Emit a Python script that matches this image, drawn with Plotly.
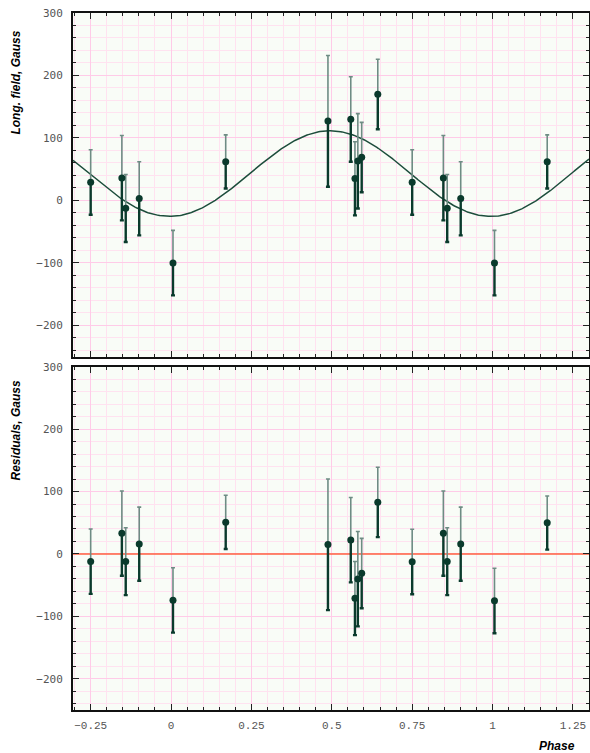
import numpy as np
import plotly.graph_objects as go

# ---- data ----
phase = [-0.25, -0.153, -0.141, -0.099, 0.006, 0.170, 0.488, 0.559, 0.572, 0.581,
         0.593, 0.643, 0.75, 0.847, 0.859, 0.901, 1.006, 1.170]
field = [29, 36, -12.5, 3, -100, 62, 127, 130, 35, 63, 69, 170, 29, 36, -12.5, 3, -100, 62]
field_err = [52, 68, 54, 59, 52, 43, 105, 68, 59, 76, 56, 56, 52, 68, 54, 59, 52, 43]
residuals = [-12, 33, -12, 16, -74, 51, 15, 22.5, -71, -40, -31, 83, -12.5, 33, -12, 16, -75, 50]

# sinusoidal model fit parameters
B0 = 43.0
B1 = 68.5
PHI0 = 0.495

X_MIN, X_MAX = -0.305, 1.30
Y_MIN, Y_MAX = -250, 300

x_ticks = [-0.25, 0, 0.25, 0.5, 0.75, 1, 1.25]
x_ticklabels = ["\u22120.25", "0", "0.25", "0.5", "0.75", "1", "1.25"]
y_ticks = [-200, -100, 0, 100, 200, 300]
y_ticklabels = ["\u2212200", "\u2212100", "0", "100", "200", "300"]

DARK = "#0a3a2c"
LIGHT_BAR = "#6e8c84"
LINE = "#1d4d3c"
ZERO = "#ff6040"

zeros = [0] * len(phase)

fig = go.Figure()


def add_points(yvals, xa, ya):
    # upper half of error bars (lighter)
    fig.add_trace(go.Scatter(
        x=phase, y=yvals, mode="markers", xaxis=xa, yaxis=ya,
        marker=dict(size=1, color="rgba(0,0,0,0)"),
        error_y=dict(type="data", symmetric=False, array=field_err, arrayminus=zeros,
                     color=LIGHT_BAR, thickness=1.6, width=2),
        showlegend=False, hoverinfo="skip"))
    # lower half of error bars (darker, thicker)
    fig.add_trace(go.Scatter(
        x=phase, y=yvals, mode="markers", xaxis=xa, yaxis=ya,
        marker=dict(size=7, color=DARK),
        error_y=dict(type="data", symmetric=False, array=zeros, arrayminus=field_err,
                     color=DARK, thickness=2.4, width=2),
        showlegend=False))


# model curve
phi_grid = np.linspace(X_MIN, X_MAX, 400)
model = B0 + B1 * np.cos(2 * np.pi * (phi_grid - PHI0))
fig.add_trace(go.Scatter(x=phi_grid, y=model, mode="lines", xaxis="x", yaxis="y",
                         line=dict(color=LINE, width=1.5), showlegend=False))
add_points(field, "x", "y")

# zero line for residuals
fig.add_trace(go.Scatter(x=[X_MIN, X_MAX], y=[0, 0], mode="lines", xaxis="x2", yaxis="y2",
                         line=dict(color=ZERO, width=1.6), showlegend=False))
add_points(residuals, "x2", "y2")

GRID_MAJOR = "#ffcbe8"
GRID_MINOR = "#ffe2f0"
TICKFONT_X = dict(family="Liberation Mono, Courier New, monospace", size=11, color="#555555")
TICKFONT_Y = dict(family="DejaVu Sans Mono, monospace", size=11, color="#555555")

xcommon = dict(range=[X_MIN, X_MAX], tickmode="array", tickvals=x_ticks, ticktext=x_ticklabels,
               ticks="inside", ticklen=6, tickwidth=1, tickcolor="#222222",
               showline=True, linecolor="#111111", linewidth=2, mirror="allticks",
               showgrid=True, gridcolor=GRID_MAJOR, gridwidth=1, zeroline=False,
               automargin=False,
               minor=dict(dtick=0.05, tick0=0, ticks="inside", ticklen=3, tickcolor="#222222",
                          showgrid=True, gridcolor=GRID_MINOR, gridwidth=1),
               tickfont=TICKFONT_X)
ycommon = dict(range=[Y_MIN, Y_MAX], tickmode="array", tickvals=y_ticks, ticktext=y_ticklabels,
               ticks="inside", ticklen=6, tickwidth=1, tickcolor="#222222",
               showline=True, linecolor="#111111", linewidth=2, mirror="allticks",
               showgrid=True, gridcolor=GRID_MAJOR, gridwidth=1, zeroline=False,
               automargin=False,
               minor=dict(dtick=20, tick0=0, ticks="inside", ticklen=3, tickcolor="#222222",
                          showgrid=True, gridcolor=GRID_MINOR, gridwidth=1),
               tickfont=TICKFONT_Y, ticklabelstandoff=6)

fig.update_layout(
    width=590, height=753,
    margin=dict(l=73, r=1, t=13, b=43),
    paper_bgcolor="white", plot_bgcolor="#f9fcf7",
    xaxis=dict(**xcommon, domain=[0, 1], anchor="y", showticklabels=False),
    yaxis=dict(**ycommon, domain=[0.507, 1], anchor="x"),
    xaxis2=dict(**xcommon, domain=[0, 1], anchor="y2", matches="x", showticklabels=True,
                ticklabelstandoff=4),
    yaxis2=dict(**ycommon, domain=[0, 0.4925], anchor="x2"),
)

TITLE_FONT = dict(family="Liberation Sans, Arial, sans-serif", size=12, color="#000000")
fig.add_annotation(text="<b><i>Long. field, Gauss</i></b>", textangle=-90,
                   xref="paper", yref="paper", x=-0.110, y=0.978, xanchor="center", yanchor="top",
                   showarrow=False, font=TITLE_FONT)
fig.add_annotation(text="<b><i>Residuals, Gauss</i></b>", textangle=-90,
                   xref="paper", yref="paper", x=-0.110, y=0.476, xanchor="center", yanchor="top",
                   showarrow=False, font=TITLE_FONT)
fig.add_annotation(text="<b><i>Phase</i></b>", xref="paper", yref="paper",
                   x=0.977, y=-0.0517, xanchor="right", yanchor="middle",
                   showarrow=False, font=TITLE_FONT)

fig.write_html("out.html", config={"displayModeBar": False},
               post_script="document.body.style.margin='0';document.body.style.overflow='hidden';")
